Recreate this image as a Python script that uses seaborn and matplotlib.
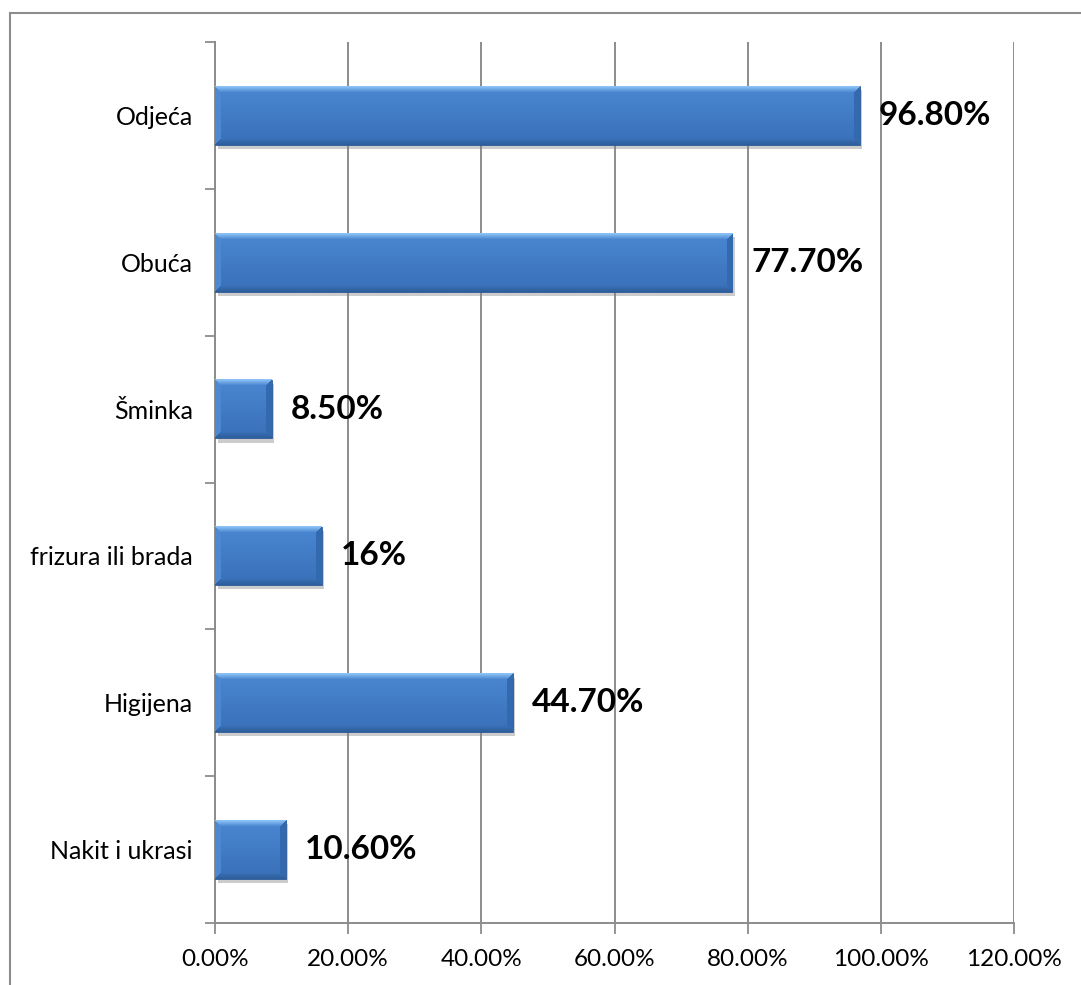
import numpy as np
import pandas as pd
import matplotlib
matplotlib.use("Agg")
import matplotlib.pyplot as plt
import matplotlib.patheffects as pe
from matplotlib.patches import Rectangle
from matplotlib.colors import to_rgb
import seaborn as sns

categories = ["Odjeća", "Obuća", "Šminka", "frizura ili brada", "Higijena", "Nakit i ukrasi"]
values = [0.968, 0.777, 0.085, 0.16, 0.447, 0.106]
value_labels = ["96.80%", "77.70%", "8.50%", "16%", "44.70%", "10.60%"]
x_ticks = [0.0, 0.2, 0.4, 0.6, 0.8, 1.0, 1.2]
x_tick_labels = ["0.00%", "20.00%", "40.00%", "60.00%", "80.00%", "100.00%", "120.00%"]

sns.set_theme(style="white")
plt.rcParams["font.family"] = ["Lato", "DejaVu Sans"]

W, H, DPI = 1081, 985, 100
fig = plt.figure(figsize=(W / DPI, H / DPI), dpi=DPI)
ax = fig.add_axes([215 / W, 1 - 923 / H, (1014 - 215) / W, (923 - 42) / H])

df = pd.DataFrame({"cat": categories, "val": values})
sns.barplot(data=df, x="val", y="cat", orient="h", color="#3F7AC4",
            width=0.4, saturation=1, ax=ax, zorder=3)

ax.set_xlim(0, 1.2)
ax.set_ylim(len(categories) - 0.5, -0.5)
ax.set_xlabel("")
ax.set_ylabel("")

grid_c = "#8c8c8c"
ax.set_xticks(x_ticks)
ax.set_xticklabels(x_tick_labels)
ax.tick_params(axis="x", which="major", bottom=True, direction="out", length=8, width=1.3,
               color=grid_c, pad=11, labelsize=17.5, labelcolor="black")
ax.xaxis.grid(True, color=grid_c, linewidth=1.4, zorder=0)
ax.set_axisbelow(True)

# category labels at centers, tick marks at boundaries
ax.set_yticks(np.arange(-0.5, len(categories), 1.0))
ax.set_yticklabels([])
ax.set_yticks(np.arange(len(categories)), minor=True)
ax.set_yticklabels(categories, minor=True)
ax.tick_params(axis="y", which="minor", left=True, length=0, pad=16,
               labelsize=18, labelcolor="black")
ax.tick_params(axis="y", which="major", left=True, direction="out", length=7, width=1.3, color=grid_c)

for s in ["top", "right"]:
    ax.spines[s].set_visible(False)
for s in ["left", "bottom"]:
    ax.spines[s].set_color(grid_c)
    ax.spines[s].set_linewidth(1.4)

# bevel-style fill for bars
fig.canvas.draw()
top_c = np.array(to_rgb("#8CC2F5"))
base_top = np.array(to_rgb("#4A87D2"))
base_bot = np.array(to_rgb("#3970B8"))
bot_c = np.array(to_rgb("#2D5C98"))
left_c = np.array(to_rgb("#4D89D2"))
right_c = np.array(to_rgb("#336AAF"))
bev = 6
for p in ax.patches:
    bb = p.get_bbox()
    x0, x1 = bb.x0, bb.x1
    y0, y1 = min(bb.y0, bb.y1), max(bb.y0, bb.y1)
    (px0, py0) = ax.transData.transform((x0, y1))
    (px1, py1) = ax.transData.transform((x1, y0))
    wpx = max(int(round(abs(px1 - px0))), 2)
    hpx = max(int(round(abs(py1 - py0))), 2)
    rows = np.arange(hpx)[:, None] * np.ones((1, wpx))
    cols = np.ones((hpx, 1)) * np.arange(wpx)[None, :]
    t = rows / (hpx - 1)
    img = base_top[None, None, :] * (1 - t[..., None]) + base_bot[None, None, :] * t[..., None]
    d_top = rows
    d_bot = hpx - 1 - rows
    d_left = cols
    d_right = wpx - 1 - cols
    dmin = np.minimum.reduce([d_top, d_bot, d_left, d_right])
    mask_top = (d_top == dmin) & (dmin < bev)
    mask_bot = (d_bot == dmin) & (dmin < bev) & ~mask_top
    mask_left = (d_left == dmin) & (dmin < bev) & ~mask_top & ~mask_bot
    mask_right = (d_right == dmin) & (dmin < bev) & ~mask_top & ~mask_bot & ~mask_left
    ft = (1 - d_top / bev)[mask_top][:, None]
    img[mask_top] = img[mask_top] * (1 - ft) + top_c * ft
    fb = (1 - d_bot / bev)[mask_bot][:, None] * 0.9
    img[mask_bot] = img[mask_bot] * (1 - fb) + bot_c * fb
    img[mask_left] = left_c
    img[mask_right] = right_c
    p.set_path_effects([pe.SimplePatchShadow(offset=(2, -3), shadow_rgbFace="#808080", alpha=0.4),
                        pe.Normal()])
    p.set_edgecolor("#2B5A96")
    p.set_linewidth(0.6)
    ax.imshow(np.clip(img, 0, 1), extent=(x0, x1, y1, y0), aspect="auto", zorder=4,
              interpolation="bilinear")

ax.set_xlim(0, 1.2)
ax.set_ylim(len(categories) - 0.5, -0.5)

# value labels
for i, (v, lab) in enumerate(zip(values, value_labels)):
    ax.annotate(lab, xy=(v, i), xytext=(14, 0), textcoords="offset points",
                ha="left", va="center", fontsize=24, fontweight="bold", color="black", zorder=6)

# outer frame (partly off canvas)
fig.patches.append(Rectangle((9.5 / W, -0.1), 1.2, 1.1 - 12.5 / H,
                             transform=fig.transFigure, fill=False,
                             edgecolor="#8c8c8c", linewidth=1.5, zorder=10))

fig.savefig("out.png", dpi=DPI)
